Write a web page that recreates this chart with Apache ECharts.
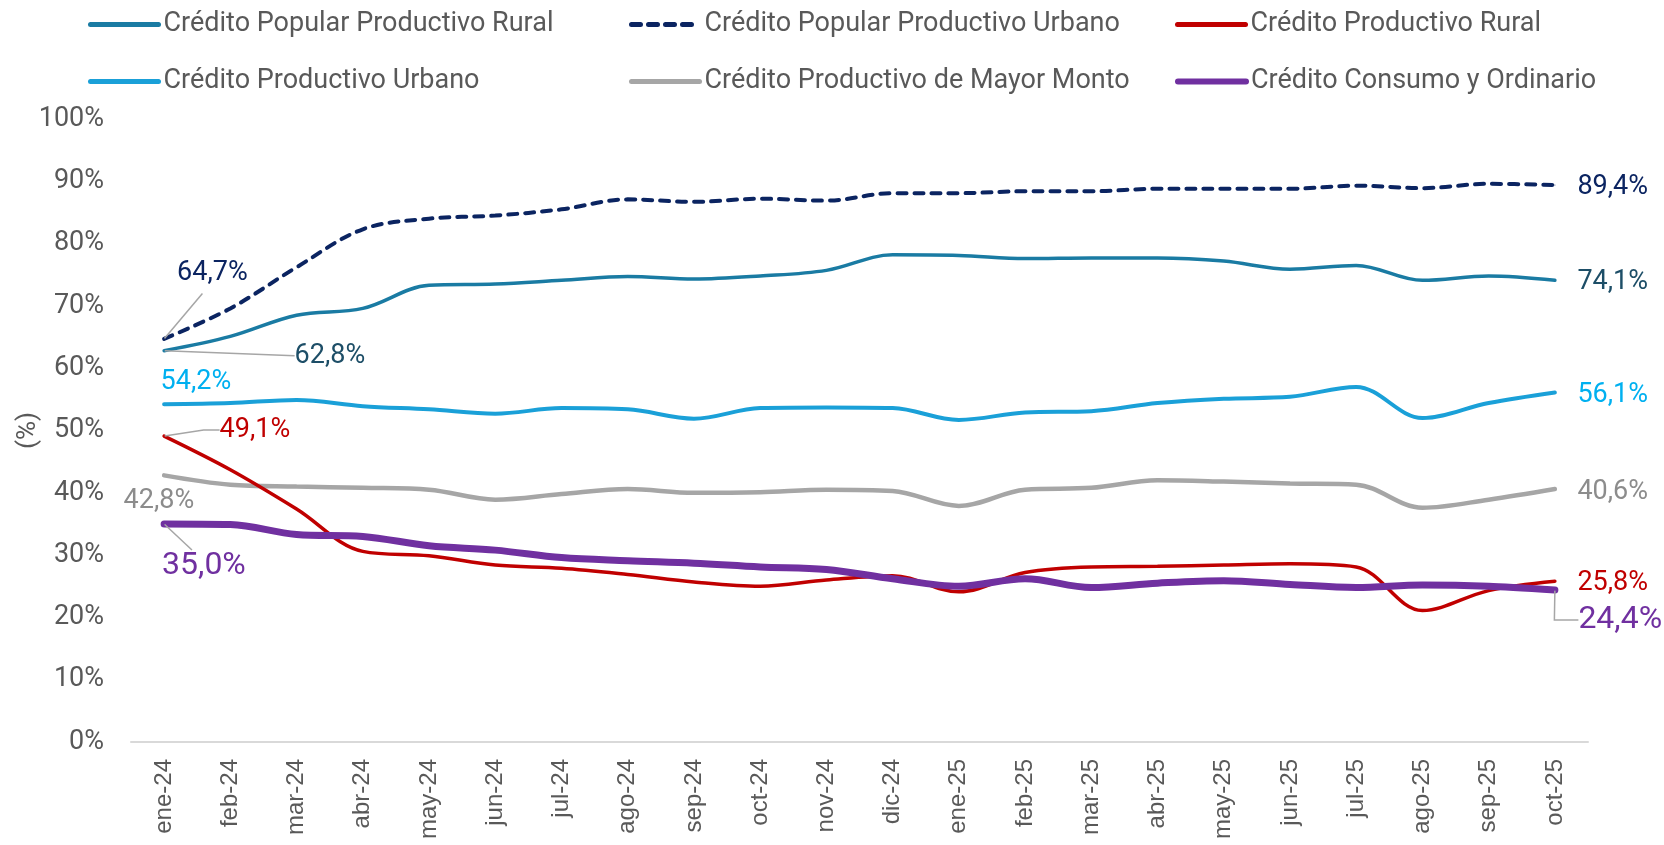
<!DOCTYPE html>
<html>
<head>
<meta charset="utf-8">
<script src="https://cdn.jsdelivr.net/npm/echarts@6/dist/echarts.min.js"></script>
<style>
  html, body { margin: 0; padding: 0; background: #fff; }
  #chart { width: 1664px; height: 845px; }
</style>
</head>
<body>
<div id="chart"></div>
<script>
const months = ['ene-24', 'feb-24', 'mar-24', 'abr-24', 'may-24', 'jun-24', 'jul-24', 'ago-24', 'sep-24', 'oct-24', 'nov-24', 'dic-24',
  'ene-25', 'feb-25', 'mar-25', 'abr-25', 'may-25', 'jun-25', 'jul-25', 'ago-25', 'sep-25', 'oct-25']

const popularRural = [62.8, 65.1, 68.5, 69.6, 73.3, 73.5, 74.1, 74.7, 74.3, 74.8, 75.7, 78.2, 78.1, 77.6, 77.7, 77.7, 77.2, 75.9, 76.5, 74.1, 74.8, 74.1]
const popularUrbano = [64.7, 69.6, 76.2, 82.3, 84.0, 84.5, 85.5, 87.1, 86.7, 87.2, 86.9, 88.1, 88.1, 88.4, 88.4, 88.8, 88.8, 88.8, 89.3, 88.9, 89.6, 89.4]
const productivoRural = [49.1, 43.7, 37.4, 30.6, 29.9, 28.4, 27.9, 26.9, 25.7, 25.0, 26.0, 26.7, 24.1, 27.2, 28.1, 28.2, 28.4, 28.6, 28.1, 21.1, 24.3, 25.8]
const productivoUrbano = [54.2, 54.4, 54.9, 53.9, 53.4, 52.7, 53.6, 53.4, 51.9, 53.6, 53.7, 53.6, 51.7, 52.9, 53.1, 54.4, 55.1, 55.4, 57.0, 52.0, 54.4, 56.1]
const mayorMonto = [42.8, 41.3, 41.0, 40.8, 40.5, 38.9, 39.8, 40.6, 40.0, 40.1, 40.5, 40.3, 37.9, 40.5, 40.8, 42.0, 41.8, 41.5, 41.3, 37.6, 38.9, 40.6]
const consumo = [35.0, 34.9, 33.3, 33.0, 31.5, 30.8, 29.6, 29.1, 28.7, 28.1, 27.7, 26.2, 25.0, 26.2, 24.8, 25.5, 25.9, 25.3, 24.8, 25.2, 25.0, 24.4]

const names = ['Crédito Popular Productivo Rural', 'Crédito Popular Productivo Urbano', 'Crédito Productivo Rural',
  'Crédito Productivo Urbano', 'Crédito Productivo de Mayor Monto', 'Crédito Consumo y Ordinario']

const TXT = '#595959'
const FONT = 'Roboto'

// style + label placement of each series (first and last point)
// pad steers where the leader line meets the label box
const styles = [
  { data: popularRural, color: '#1A7BA3', label: '#1D4E67', width: 3.5, z: 3,
    first: { dx: 125, dy: 5, line: true }, last: { dx: 17, dy: 2 } },
  { data: popularUrbano, color: '#0B2461', label: '#0B2461', width: 4, dash: [9, 8], z: 4,
    first: { dx: -12.5, dy: -66, line: true, pad: [0, 0, 14, 20] }, last: { dx: 17, dy: 2 } },
  { data: productivoRural, color: '#C00000', label: '#C00000', width: 3.5, z: 5,
    first: { dx: 50, dy: -6, line: true, len: 16 }, last: { dx: 17, dy: 2 } },
  { data: productivoUrbano, color: '#1AA0D8', label: '#00B0F0', width: 4, z: 2,
    first: { dx: -9, dy: -22 }, last: { dx: 17, dy: 3 } },
  { data: mayorMonto, color: '#A6A6A6', label: '#8C8C8C', width: 4.5, z: 1,
    first: { dx: -46, dy: 26 }, last: { dx: 17, dy: 3 } },
  { data: consumo, color: '#7030A0', label: '#7030A0', width: 7, z: 6, big: true,
    first: { dx: -31.5, dy: 42, line: true, pad: [0, 0, 0, 24] }, last: { dx: 18, dy: 30, line: true, len: 24 } }
]

const fmt = (v) => v.toFixed(1).replace('.', ',') + '%'

const series = styles.map((s, si) => {
  const last = s.data.length - 1
  const data = s.data.map((v, i) => {
    if (i !== 0 && i !== last) return v
    const cfg = i === 0 ? s.first : s.last
    return {
      value: v,
      symbol: 'circle',
      symbolSize: 1,
      label: {
        show: true,
        position: 'right',
        distance: 5,
        formatter: () => fmt(v),
        color: s.label,
        fontSize: s.big ? 32 : 27,
        fontFamily: FONT,
        padding: cfg.pad || 0,
        backgroundColor: cfg.pad ? 'rgba(255,255,255,0)' : null
      },
      labelLine: {
        show: !!cfg.line,
        length2: cfg.len || 0,
        minTurnAngle: 0,
        lineStyle: { color: '#A6A6A6', width: 1.5 }
      }
    }
  })
  return {
    name: names[si],
    type: 'line',
    smooth: 0.35,
    symbol: 'none',
    z: s.z,
    data,
    itemStyle: { color: s.color },
    lineStyle: { color: s.color, width: s.width, type: s.dash || 'solid', cap: 'round' },
    labelLayout: (p) => {
      const cfg = p.dataIndex === 0 ? s.first : s.last
      return { dx: cfg.dx, dy: cfg.dy }
    },
    emphasis: { disabled: true },
    animation: false
  }
})

// legend: three columns, two rows
const legendCols = [88, 629, 1175]
const legendRows = [11, 68]
const legend = names.map((n, i) => ({
  data: [n],
  left: legendCols[i % 3],
  top: legendRows[Math.floor(i / 3)],
  padding: 0,
  itemWidth: 68,
  itemHeight: 26,
  itemGap: 0,
  selectedMode: false,
  itemStyle: { opacity: 0 },
  textStyle: { fontSize: 27, color: TXT, fontFamily: FONT },
  lineStyle: { width: i === 5 ? 6 : 5 }
}))

const chart = echarts.init(document.getElementById('chart'))
chart.setOption({
  backgroundColor: '#fff',
  animation: false,
  legend,
  grid: { left: 131, right: 76, top: 119, bottom: 103, outerBoundsMode: 'none', containLabel: false },
  xAxis: {
    type: 'category',
    data: months,
    boundaryGap: true,
    axisLine: { lineStyle: { color: '#D9D9D9', width: 2 } },
    axisTick: { show: false },
    axisLabel: {
      rotate: 90,
      margin: 17,
      fontSize: 24,
      color: TXT,
      fontFamily: 'Liberation Sans'
    }
  },
  yAxis: {
    type: 'value',
    min: 0,
    max: 100,
    interval: 10,
    name: '(%)',
    nameLocation: 'middle',
    nameGap: 90,
    nameMoveOverlap: false,
    nameTextStyle: { fontSize: 26, color: TXT, fontFamily: FONT },
    axisLine: { show: false },
    axisTick: { show: false },
    splitLine: { show: false },
    axisLabel: {
      formatter: '{value}%',
      margin: 27,
      fontSize: 27,
      color: TXT,
      fontFamily: FONT
    }
  },
  series
})
</script>
</body>
</html>
